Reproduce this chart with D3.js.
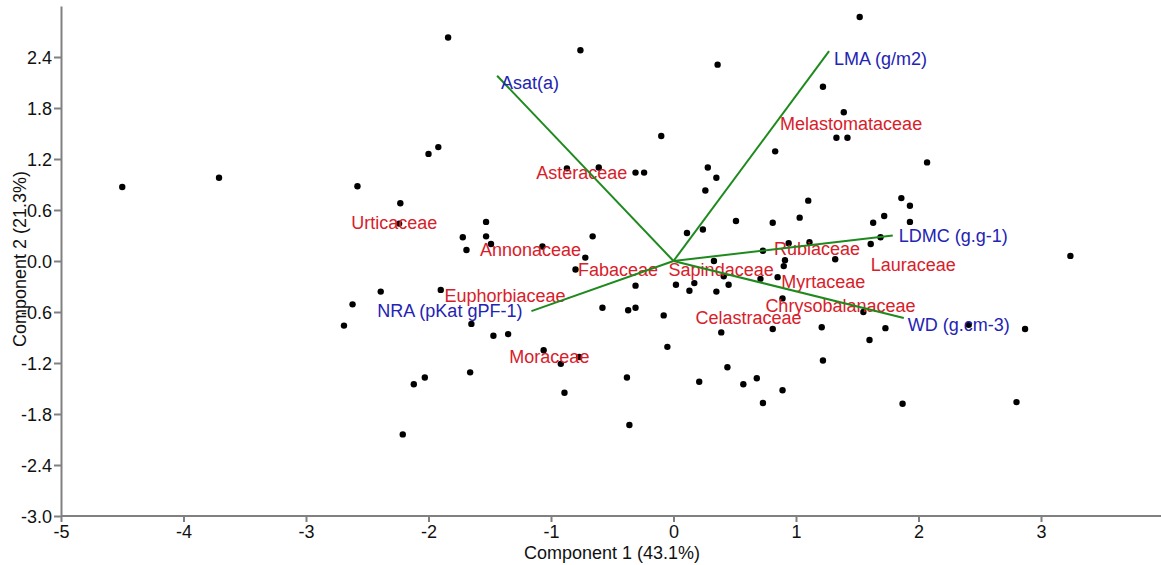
<!DOCTYPE html>
<html>
<head>
<meta charset="utf-8">
<script src="https://cdn.jsdelivr.net/npm/d3@7"></script>
<style>
    body { margin: 0; background: #fff; }
    svg { display: block; font-family: Arial, "Liberation Sans", sans-serif; }
    .axis path, .axis line { stroke: #808080; stroke-width: 2; }
    .axis text { font-size: 18px; fill: #111; }
    .title { font-size: 18px; fill: #111; }
    .vector { stroke: #1e8a1e; stroke-width: 2; }
    .vlabel { font-size: 18px; fill: #2323b4; }
    .flabel { font-size: 18px; fill: #d8202a; }
</style>
</head>
<body>
<div id="chart"></div>
<script>
// PCA scores (Component 1, Component 2)
const scoreX = [
    -4.50, -3.71, -2.58, -2.23, -2.24, -2.39, -2.62, -2.69, -1.84, -1.92,
    -2.00, -1.53, -1.72, -1.53, -1.49, -1.69, -1.07, -1.90, -1.65, -1.47,
    -1.35, -1.06, -0.92, -0.77, -1.66, -2.03, -2.12, -0.89, -2.21, -0.76,
    -0.87, -0.61, -0.31, -0.24, -0.10, 0.36, -0.66, -0.72, -0.80, -0.58,
    -0.37, -0.31, -0.31, -0.38, -0.36, -0.08, -0.05, 0.02, 0.13, 0.17,
    0.35, 0.45, 0.41, 0.33, 0.11, 0.24, 0.28, 0.35, 0.26, 0.51,
    0.81, 0.83, 1.03, 1.10, 0.73, 0.94, 1.11, 0.91, 0.90, 0.85,
    0.71, 0.89, 0.39, 0.81, 0.21, 0.44, 0.57, 0.68, 0.73, 0.89,
    1.21, 1.22, 1.55, 1.73, 1.60, 2.41, 2.87, 1.87, 2.80, 1.52,
    1.22, 1.39, 1.33, 1.42, 2.07, 1.86, 1.93, 1.72, 1.63, 1.93,
    1.69, 1.61, 1.32, 3.24
];
const scoreY = [
    0.87, 0.98, 0.88, 0.68, 0.44, -0.36, -0.51, -0.76, 2.63, 1.34,
    1.26, 0.46, 0.28, 0.29, 0.20, 0.13, 0.17, -0.34, -0.74, -0.88,
    -0.86, -1.05, -1.21, -1.13, -1.31, -1.37, -1.45, -1.55, -2.04, 2.48,
    1.09, 1.10, 1.04, 1.04, 1.47, 2.31, 0.29, 0.04, -0.10, -0.55,
    -0.58, -0.55, -0.29, -1.37, -1.93, -0.64, -1.01, -0.28, -0.35, -0.26,
    -0.36, -0.28, -0.18, 0.00, 0.33, 0.37, 1.10, 0.98, 0.83, 0.47,
    0.45, 1.29, 0.51, 0.71, 0.12, 0.21, 0.22, 0.01, -0.06, -0.19,
    -0.21, -0.44, -0.84, -0.80, -1.42, -1.25, -1.45, -1.38, -1.67, -1.52,
    -0.78, -1.17, -0.60, -0.79, -0.93, -0.75, -0.80, -1.68, -1.66, 2.87,
    2.05, 1.75, 1.45, 1.45, 1.16, 0.74, 0.65, 0.53, 0.45, 0.46,
    0.28, 0.20, 0.02, 0.06
];

// Trait loadings (biplot vectors)
const traitNames = ['Asat(a)', 'LMA (g/m2)', 'LDMC (g.g-1)', 'WD (g.cm-3)', 'NRA (pKat gPF-1)'];
const traitX = [-1.44, 1.27, 1.79, 1.88, -1.16];
const traitY = [2.18, 2.47, 0.30, -0.67, -0.59];

// Family labels
const familyNames = ['Urticaceae', 'Asteraceae', 'Annonaceae', 'Fabaceae', 'Sapindaceae',
    'Euphorbiaceae', 'Moraceae', 'Celastraceae', 'Melastomataceae', 'Rubiaceae',
    'Lauraceae', 'Myrtaceae', 'Chrysobalanaceae'];
const familyX = [-2.63, -1.12, -1.58, -0.78, -0.04, -1.87, -1.34, 0.18, 0.87, 0.82, 1.61, 0.88, 0.75];
const familyY = [0.45, 1.04, 0.13, -0.10, -0.10, -0.41, -1.13, -0.67, 1.61, 0.14, -0.04, -0.24, -0.52];

// Axis ticks
const xTicks = [-5, -4, -3, -2, -1, 0, 1, 2, 3];
const yTicks = [-3.0, -2.4, -1.8, -1.2, -0.6, 0.0, 0.6, 1.2, 1.8, 2.4];

// Small pixel nudges for the trait labels (layout only)
const traitLabelNudge = [[4, 7], [5, 8], [6, 0], [4, 7], [-9, 0]];

const width = 1161;
const height = 565;
const margin = { top: 6, right: 0, bottom: 49, left: 61 };

// Plain hyphen for negative numbers, like the original
const locale = d3.formatLocale({ decimal: '.', thousands: ',', grouping: [3], currency: ['', ''], minus: '-' });

const svg = d3.select('#chart')
    .append('svg')
    .attr('width', width)
    .attr('height', height);

const x = d3.scaleLinear()
    .domain([-5, 4])
    .range([margin.left, margin.left + 9 * 122.5]);

const y = d3.scaleLinear()
    .domain([-3, 3])
    .range([height - margin.bottom, margin.top]);

// Axes
svg.append('g')
    .attr('class', 'axis')
    .attr('transform', `translate(0,${y(-3)})`)
    .call(d3.axisBottom(x).tickValues(xTicks).tickSize(6).tickSizeOuter(0).tickPadding(3).tickFormat(locale.format('d')))
    .call(g => g.select('.domain').attr('d', `M${margin.left},0H${width}`));

svg.append('g')
    .attr('class', 'axis')
    .attr('transform', `translate(${margin.left},0)`)
    .call(d3.axisLeft(y).tickValues(yTicks).tickSize(7).tickSizeOuter(0).tickPadding(2).tickFormat(locale.format('.1f')))
    .call(g => g.selectAll('text').attr('dy', '0.36em'));

svg.selectAll('.axis text').attr('font-family', 'Arial, "Liberation Sans", sans-serif');

// Axis titles
svg.append('text')
    .attr('class', 'title')
    .attr('x', 612)
    .attr('y', 559)
    .attr('text-anchor', 'middle')
    .text('Component 1 (43.1%)');

svg.append('text')
    .attr('class', 'title')
    .attr('transform', 'translate(26,259) rotate(-90)')
    .attr('text-anchor', 'middle')
    .text('Component 2 (21.3%)');

// Score points
const points = scoreX.map((v, i) => ({ x: v, y: scoreY[i] }));

svg.append('g')
    .selectAll('circle')
    .data(points)
    .enter()
    .append('circle')
    .attr('cx', d => x(d.x))
    .attr('cy', d => y(d.y))
    .attr('r', 3.2)
    .attr('fill', '#000');

// Family labels
const families = familyNames.map((n, i) => ({ name: n, x: familyX[i], y: familyY[i] }));

svg.append('g')
    .selectAll('text')
    .data(families)
    .enter()
    .append('text')
    .attr('class', 'flabel')
    .attr('x', d => x(d.x))
    .attr('y', d => y(d.y))
    .attr('dy', '0.35em')
    .text(d => d.name);

// Trait vectors
const traits = traitNames.map((n, i) => ({ name: n, x: traitX[i], y: traitY[i], nudge: traitLabelNudge[i] }));

svg.append('g')
    .selectAll('line')
    .data(traits)
    .enter()
    .append('line')
    .attr('class', 'vector')
    .attr('x1', x(0))
    .attr('y1', y(0))
    .attr('x2', d => x(d.x))
    .attr('y2', d => y(d.y));

svg.append('g')
    .selectAll('text')
    .data(traits)
    .enter()
    .append('text')
    .attr('class', 'vlabel')
    .attr('x', d => x(d.x) + d.nudge[0])
    .attr('y', d => y(d.y) + d.nudge[1])
    .attr('dy', '0.35em')
    .attr('text-anchor', d => d.x < 0 && d.y < 0 ? 'end' : 'start')
    .text(d => d.name);
</script>
</body>
</html>
